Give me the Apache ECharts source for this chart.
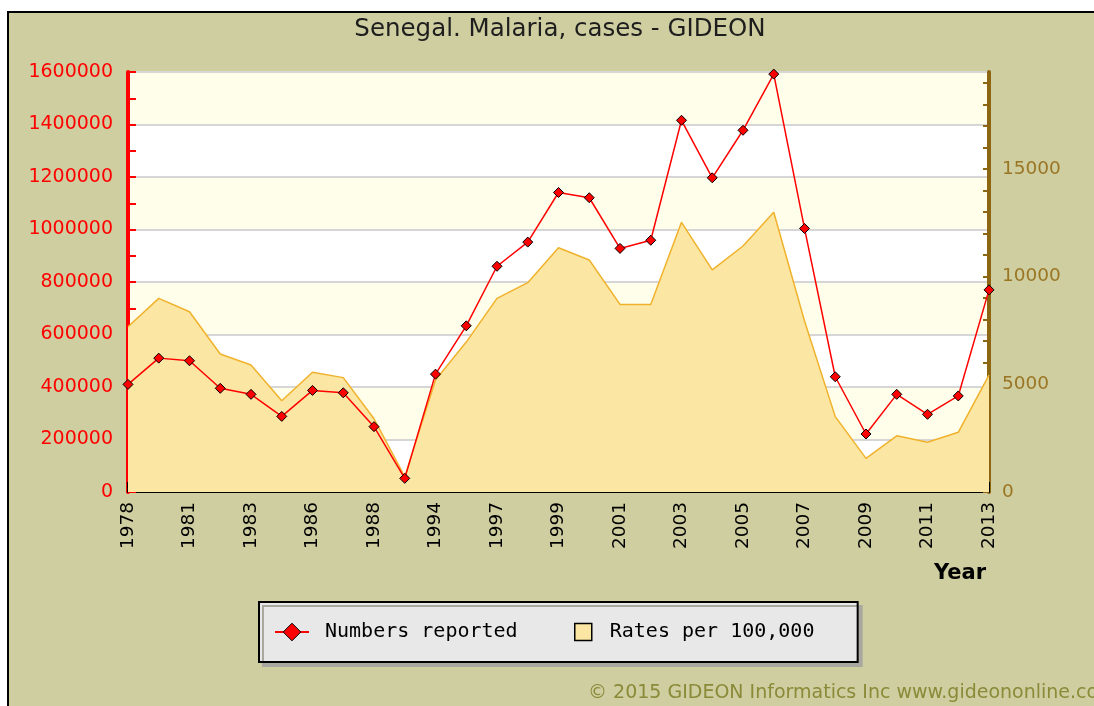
<!DOCTYPE html>
<html>
<head>
<meta charset="utf-8">
<title>Senegal. Malaria, cases - GIDEON</title>
<script src="https://cdn.jsdelivr.net/npm/echarts@6/dist/echarts.min.js"></script>
<style>
    html, body { margin: 0; padding: 0; background: #ffffff; }
    #malaria_chart { width: 1094px; height: 706px; }
</style>
</head>
<body>
<div id="malaria_chart"></div>
<script>
const years = [
    "1978", "1980", "1981", "1982", "1983", "1985", "1986", "1987", "1988", "1990",
    "1994", "1996", "1997", "1998", "1999", "2000", "2001", "2002", "2003", "2004",
    "2005", "2006", "2007", "2008", "2009", "2010", "2011", "2012", "2013"
];

// cases reported (left axis)
const numbersReported = [
    410000, 510000, 500000, 395000, 372000, 288000, 387000, 378000, 249000, 52000,
    449000, 633000, 860000, 952000, 1141000, 1121000, 928000, 959000, 1416000, 1197000,
    1378000, 1592000, 1004000, 439000, 221000, 372000, 296000, 366000, 770000
];

// rate per 100,000 (right axis)
const ratesPer100k = [
    7670, 8990, 8370, 6410, 5900, 4240, 5560, 5310, 3400, 710,
    5200, 6960, 8990, 9720, 11340, 10770, 8710, 8710, 12520, 10310,
    11420, 12990, 7940, 3500, 1560, 2610, 2310, 2770, 5430
];

const leftTicks = { min: 0, max: 1600000, step: 200000 };
const rightTicks = { min: 0, max: 19500, step: 1000, labelStep: 5000 };

const chart = echarts.init(document.getElementById("malaria_chart"));

const option = {
    animation: false,
    backgroundColor: "#cfcea0",
    textStyle: { fontFamily: "DejaVu Sans" },
    title: [
        {
            text: "Senegal. Malaria, cases - GIDEON",
            left: 560,
            top: 17,
            padding: 0,
            textAlign: "center",
            textStyle: { fontSize: 24.5, fontWeight: "normal", color: "#1e1e1e", fontFamily: "DejaVu Sans" }
        },
        {
            text: "Year",
            left: 960,
            top: 563,
            padding: 0,
            textAlign: "center",
            textStyle: { fontSize: 21, fontWeight: "bold", color: "#000", fontFamily: "DejaVu Sans" }
        },
        {
            text: "© 2015 GIDEON Informatics Inc www.gideononline.com",
            left: 588,
            top: 684,
            padding: 0,
            textStyle: { fontSize: 19, fontWeight: "normal", color: "#8a8a38", fontFamily: "DejaVu Sans" }
        }
    ],
    graphic: [
        { type: "rect", left: 0, top: 0, shape: { width: 1094, height: 11 }, style: { fill: "#fff" }, silent: true },
        { type: "rect", left: 0, top: 0, shape: { width: 7, height: 706 }, style: { fill: "#fff" }, silent: true },
        { type: "line", shape: { x1: 7, y1: 12, x2: 1094, y2: 12 }, style: { stroke: "#000", lineWidth: 2 }, silent: true },
        { type: "line", shape: { x1: 8, y1: 12, x2: 8, y2: 706 }, style: { stroke: "#000", lineWidth: 2 }, silent: true }
    ],
    legend: [
        {
            data: ["Numbers reported"],
            left: 259,
            top: 602,
            padding: [19, 340, 19, 15],
            itemWidth: 34,
            itemHeight: 22,
            backgroundColor: "#e8e8e8",
            borderColor: "#000",
            borderWidth: 2,
            borderRadius: 0,
            shadowColor: "#a8a8a0",
            shadowBlur: 0,
            shadowOffsetX: 4,
            shadowOffsetY: 4,
            selectedMode: false,
            itemStyle: { borderColor: "#000", borderWidth: 1 },
            textStyle: {
                fontFamily: "DejaVu Sans Mono",
                fontSize: 20,
                color: "#000",
                lineHeight: 22,
                padding: [0, 0, 0, 11]
            }
        },
        {
            data: ["Rates per 100,000"],
            left: 574,
            top: 621,
            padding: 0,
            icon: "rect",
            itemWidth: 17,
            itemHeight: 17,
            selectedMode: false,
            itemStyle: { color: "#fbe6a3", borderColor: "#000", borderWidth: 1.5 },
            textStyle: {
                fontFamily: "DejaVu Sans Mono",
                fontSize: 20,
                color: "#000",
                lineHeight: 22,
                padding: [0, 0, 0, 13]
            }
        }
    ],
    grid: {
        left: 128,
        right: 105,
        top: 72,
        bottom: 214,
        containLabel: false
    },
    xAxis: {
        type: "category",
        data: years,
        boundaryGap: false,
        axisLine: { lineStyle: { color: "#000", width: 2 } },
        axisTick: { show: true, inside: true, length: 10, interval: 1, lineStyle: { color: "#000", width: 2 } },
        axisLabel: {
            interval: 1,
            rotate: 90,
            margin: 10,
            color: "#000",
            fontSize: 18.5,
            fontFamily: "DejaVu Sans"
        },
        splitLine: { show: false }
    },
    yAxis: [
        {
            type: "value",
            position: "left",
            min: leftTicks.min,
            max: leftTicks.max,
            interval: leftTicks.step,
            axisLine: { show: true, lineStyle: { color: "#ff0000", width: 4 } },
            axisTick: { show: true, inside: true, length: 8, lineStyle: { color: "#ff0000", width: 2 } },
            minorTick: { show: true, splitNumber: 2, length: 8, lineStyle: { color: "#ff0000", width: 2 } },
            axisLabel: {
                color: "#ff0000",
                fontSize: 19,
                margin: 15,
                fontFamily: "DejaVu Sans",
                formatter: (v) => String(v)
            },
            splitLine: { show: true, lineStyle: { color: "#d6d6d6", width: 2 } },
            splitArea: { show: true, areaStyle: { color: ["#ffffff", "#fefeea"] } }
        },
        {
            type: "value",
            position: "right",
            min: rightTicks.min,
            max: rightTicks.max,
            interval: rightTicks.step,
            axisLine: { show: true, lineStyle: { color: "#8c6612", width: 4 } },
            axisTick: { show: true, inside: true, length: 6, lineStyle: { color: "#8c6612", width: 2 } },
            axisLabel: {
                color: "#9a7624",
                fontSize: 18.5,
                margin: 13,
                fontFamily: "DejaVu Sans",
                showMaxLabel: false,
                formatter: (v) => (v % rightTicks.labelStep === 0 ? String(v) : "")
            },
            splitLine: { show: false },
            splitArea: { show: false }
        }
    ],
    series: [
        {
            name: "Rates per 100,000",
            type: "line",
            yAxisIndex: 1,
            data: ratesPer100k,
            symbol: "none",
            z: 1,
            itemStyle: { color: "#fbe6a3" },
            lineStyle: { color: "#f0b22c", width: 1.5 },
            areaStyle: { color: "#fbe6a3", opacity: 1 }
        },
        {
            name: "Numbers reported",
            type: "line",
            yAxisIndex: 0,
            data: numbersReported,
            symbol: "diamond",
            symbolSize: 10,
            z: 3,
            itemStyle: { color: "#ff0000", borderColor: "#000", borderWidth: 1 },
            lineStyle: { color: "#ff0000", width: 1.5 }
        }
    ]
};

chart.setOption(option);
</script>
</body>
</html>
